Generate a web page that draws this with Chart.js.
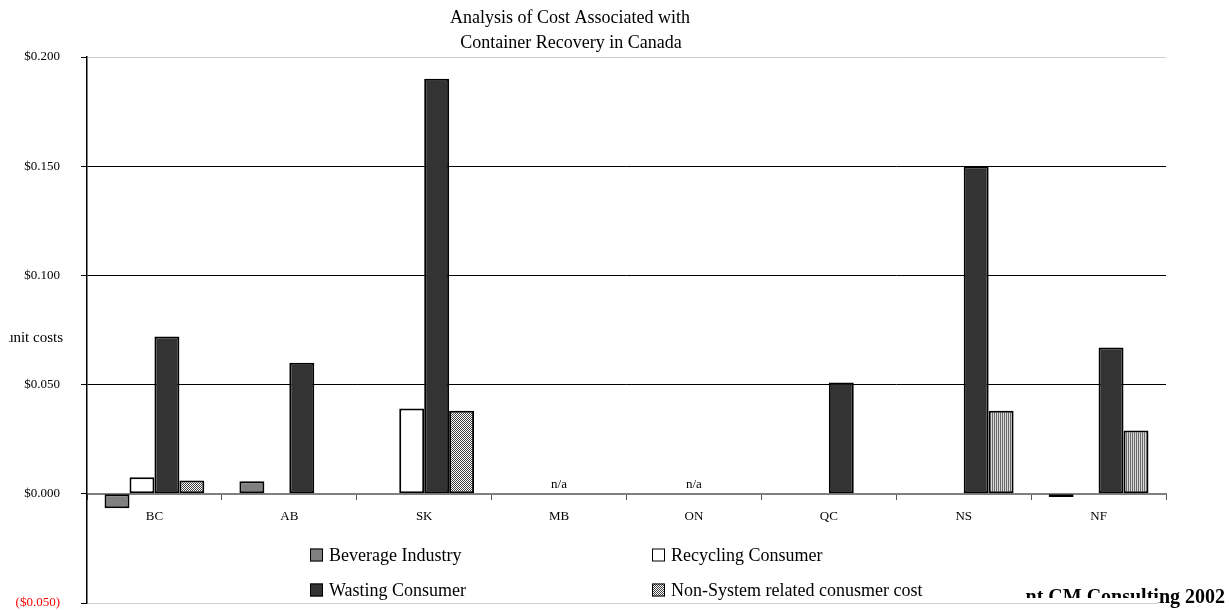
<!DOCTYPE html>
<html>
<head>
<meta charset="utf-8">
<title>Container Recovery in Canada</title>
<script src="https://cdn.jsdelivr.net/npm/chart.js@4.4.1/dist/chart.umd.min.js"></script>
<style>
  html, body { margin: 0; padding: 0; background: #fff; }
  #caja { width: 1229px; height: 610px; position: relative; }
</style>
</head>
<body>
<div id="caja"><canvas id="grafico"></canvas></div>
<script>
// datos
const provincias = ['BC', 'AB', 'SK', 'MB', 'ON', 'QC', 'NS', 'NF'];
const beverageIndustry = [-0.0066, 0.0058, null, null, null, null, null, -0.0015];
const recyclingConsumer = [0.0076, null, 0.039, null, null, null, null, null];
const wastingConsumer = [0.072, 0.060, 0.190, null, null, 0.051, 0.150, 0.067];
const nonSystemCost = [0.0061, null, 0.038, null, null, null, 0.038, 0.029];
const sinDatos = ['', '', '', 'n/a', 'n/a', '', '', ''];
const yTicks = [-0.05, 0, 0.05, 0.10, 0.15, 0.20];

const serif = '"Liberation Serif", "Times New Roman", serif';

// tramas para la serie Non-System
function trama(tipo) {
    const c = document.createElement('canvas');
    c.width = 2; c.height = 2;
    const g = c.getContext('2d');
    if (tipo === 'cuadros') {
        g.fillStyle = '#ffffff'; g.fillRect(0, 0, 2, 2);
        g.fillStyle = '#404040'; g.fillRect(0, 0, 1, 1); g.fillRect(1, 1, 1, 1);
    } else {
        g.fillStyle = '#d8d8d8'; g.fillRect(0, 0, 2, 2);
        g.fillStyle = '#6a6a6a'; g.fillRect(0, 0, 1, 2);
    }
    return g.createPattern(c, 'repeat');
}
const cuadros = trama('cuadros');
const rayas = trama('rayas');
const tramaNonSystem = ['cuadros', 'cuadros', 'cuadros', 'cuadros', 'cuadros', 'cuadros', 'rayas', 'rayas']
    .map(t => t === 'cuadros' ? cuadros : rayas);

const fmt = v => {
    const s = '$' + Math.abs(v).toFixed(3);
    return v < 0 ? '(' + s + ')' : s;
};

// titulo, leyenda, etiquetas n/a y textos sueltos
const extras = {
    id: 'extras',
    afterDraw(chart) {
        const ctx = chart.ctx;
        const x = chart.scales.x, y = chart.scales.y;
        ctx.save();
        ctx.fillStyle = '#000';
        ctx.textAlign = 'center';
        ctx.textBaseline = 'middle';
        ctx.font = '18px ' + serif;
        ctx.fillText('Analysis of Cost Associated with', 570, 18);
        ctx.fillText('Container Recovery in Canada', 571, 43);

        ctx.font = '13px ' + serif;
        sinDatos.forEach((t, i) => {
            if (t) ctx.fillText(t, x.getPixelForValue(i), y.getPixelForValue(0) - 9);
        });

        // titulo del eje y (recortado a la izquierda como en el original)
        ctx.save();
        ctx.beginPath(); ctx.rect(9, 320, 80, 40); ctx.clip();
        ctx.textAlign = 'right';
        ctx.font = '15px ' + serif;
        ctx.fillText('unit costs', 63, 338);
        ctx.restore();

        // leyenda 2x2
        const pos = [[310, 555], [652, 555], [310, 590], [652, 590]];
        chart.data.datasets.forEach((ds, i) => {
            const [lx, ly] = pos[i];
            ctx.fillStyle = ds.legendFill;
            ctx.fillRect(lx, ly - 6.5, 13, 13);
            ctx.strokeStyle = '#000';
            ctx.lineWidth = 1;
            ctx.strokeRect(lx + 0.5, ly - 6, 12, 12);
            ctx.fillStyle = '#000';
            ctx.textAlign = 'left';
            ctx.font = '18px ' + serif;
            ctx.fillText(ds.label, lx + 19, ly + 1);
        });

        // fuente (parcialmente tapada)
        const fuente = 'nt CM Consulting 2002';
        ctx.font = 'bold 20px ' + serif;
        ctx.textAlign = 'right';
        ctx.textBaseline = 'alphabetic';
        ctx.fillStyle = '#fff';
        ctx.fillRect(1158, 586, 71, 24);
        ctx.fillStyle = '#000';
        ctx.save();
        ctx.beginPath(); ctx.rect(1158, 580, 71, 30); ctx.clip();
        ctx.fillText(fuente, 1225, 603);
        ctx.restore();
        ctx.save();
        ctx.beginPath(); ctx.rect(900, 580, 258, 18); ctx.clip();
        ctx.fillText(fuente, 1225, 603);
        ctx.restore();
        ctx.restore();
    }
};

const ctx = document.getElementById('grafico');

new Chart(ctx, {
    type: 'bar',
    data: {
        labels: provincias,
        datasets: [
            { label: 'Beverage Industry', data: beverageIndustry, backgroundColor: '#808080', legendFill: '#808080' },
            { label: 'Recycling Consumer', data: recyclingConsumer, backgroundColor: '#ffffff', legendFill: '#ffffff' },
            { label: 'Wasting Consumer', data: wastingConsumer, backgroundColor: '#333333', legendFill: '#333333' },
            { label: 'Non-System related conusmer cost', data: nonSystemCost, backgroundColor: tramaNonSystem, legendFill: cuadros }
        ]
    },
    options: {
        responsive: true,
        maintainAspectRatio: false,
        animation: false,
        layout: { padding: { top: 57, bottom: 7, right: 63, left: 0 } },
        datasets: {
            bar: {
                categoryPercentage: 0.74,
                barPercentage: 1,
                borderColor: '#000',
                borderWidth: 2,
                borderSkipped: false
            }
        },
        plugins: {
            legend: { display: false },
            title: { display: false },
            tooltip: { enabled: false }
        },
        scales: {
            x: {
                position: { y: 0 },
                afterFit(scale) { scale.height = 0; },
                grid: {
                    drawOnChartArea: false,
                    tickLength: 5,
                    tickColor: '#555',
                    offset: true
                },
                border: { color: '#808080', width: 2 },
                ticks: {
                    color: '#000',
                    padding: 10,
                    font: { family: serif, size: 13 }
                }
            },
            y: {
                min: -0.05,
                max: 0.2,
                afterFit(scale) {
                    scale.width = 87;
                    scale.paddingTop = 0;
                    scale.paddingBottom = 0;
                },
                afterBuildTicks(scale) { scale.ticks = yTicks.map(v => ({ value: v })); },
                grid: {
                    tickLength: 6,
                    tickColor: '#000',
                    color: c => {
                        const v = c.tick ? c.tick.value : 0;
                        if (Math.abs(v) < 1e-9) return '#808080';
                        if (v > 0.19 || v < -0.04) return '#d0d0d0';
                        return '#000';
                    },
                    lineWidth: 1
                },
                border: { color: '#000', width: 1.5 },
                ticks: {
                    padding: 21,
                    font: { family: serif, size: 13 },
                    color: c => c.tick.value < 0 ? '#ff0000' : '#000',
                    callback: v => fmt(v)
                }
            }
        }
    },
    plugins: [extras]
});
</script>
</body>
</html>
